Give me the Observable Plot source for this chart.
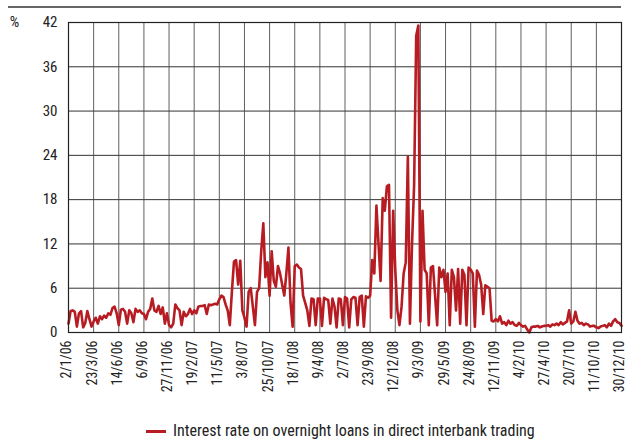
<!DOCTYPE html>
<html>
<head>
<meta charset="utf-8">
<script src="https://cdn.jsdelivr.net/npm/d3@7"></script>
<script src="https://cdn.jsdelivr.net/npm/@observablehq/plot@0.6"></script>
<style>
  html, body { margin: 0; padding: 0; background: #fff; }
  #wrap { position: relative; width: 627px; height: 439px; font-family: "Liberation Sans Narrow", "Arial Narrow", "Roboto Condensed", "Liberation Sans", sans-serif; }
  #toprule { position: absolute; left: 8px; top: 6px; width: 613px; height: 0; border-top: 2px solid #666; }
  #legend { position: absolute; left: 146px; top: 423px; height: 16px; line-height: 16px; display: flex; align-items: center; font-size: 16px; color: #222; white-space: nowrap; }
  #legend .sw { width: 20px; height: 0; border-top: 3px solid #b71c22; margin-right: 7px; }
</style>
</head>
<body>
<div id="wrap">
  <div id="toprule"></div>
  <div id="chart"></div>
  <div id="legend"><span class="sw"></span><span id="legendText"></span></div>
</div>
<script>
// Tick labels (every 58 business days)
const dateLabels = ["2/1/06","23/3/06","14/6/06","6/9/06","27/11/06","19/2/07","11/5/07","3/8/07","25/10/07","18/1/08","9/4/08","2/7/08","23/9/08","12/12/08","9/3/09","29/5/09","24/8/09","12/11/09","4/2/10","27/4/10","20/7/10","11/10/10","30/12/10"];
const pointsPerTick = 12;
const yTicks = [0, 6, 12, 18, 24, 30, 36, 42];
const seriesName = "Interest rate on overnight loans in direct interbank trading";

// Interest rate (%), sampled between consecutive tick dates
const rate2006 = [
  1.2, 2.9, 3.0, 2.8, 0.8, 2.6, 2.9, 0.7, 1.3, 2.9, 1.8, 0.8,
  1.5, 2.0, 1.2, 2.2, 1.8, 2.3, 2.0, 2.6, 2.4, 3.3, 3.5, 2.6,
  1.0, 3.1, 3.2, 2.8, 1.2, 3.0, 2.6, 1.4, 3.2, 2.8, 3.0, 2.6,
  2.5, 1.8, 2.8, 3.2, 4.6, 3.0, 2.8, 3.6, 2.5, 3.4, 1.2, 2.6
];
const rate2007 = [
  1.0, 0.7, 1.2, 3.8, 3.3, 3.0, 1.0, 2.8, 2.2, 2.5, 3.2, 2.5,
  3.0, 2.6, 3.5, 3.6, 3.6, 3.7, 2.5, 3.8, 3.7, 3.8, 3.9, 3.8,
  4.5, 5.0, 4.8, 3.8, 3.0, 1.0, 5.5, 9.6, 9.8, 6.5, 9.7, 3.0,
  2.0, 0.8, 5.5, 6.0, 3.5, 1.0, 5.5, 6.0, 11.0, 14.8, 7.5, 9.5,
  5.0, 11.0, 7.0, 6.2, 9.0, 8.0, 6.5, 5.0, 8.0, 11.5, 4.0, 0.8
];
const rate2008 = [
  9.0, 9.2, 8.8, 8.6, 5.0, 4.0, 3.0, 0.9, 4.6, 4.5, 1.0, 4.6,
  4.6, 0.9, 4.7, 4.5, 4.4, 1.2, 4.6, 3.5, 0.7, 4.6, 4.5, 1.0,
  4.8, 4.6, 0.7, 4.5, 4.8, 4.7, 1.0, 4.8, 5.0, 0.8, 4.9, 4.7,
  5.0, 9.8, 8.0, 17.2, 12.0, 7.0, 18.2, 16.5, 19.8, 20.0, 2.0, 16.5
];
const rate2009 = [
  8.5, 3.0, 1.0, 3.5, 8.0, 9.5, 23.8, 1.2, 12.0, 20.0, 40.2, 41.6,
  1.5, 16.5, 8.5, 8.0, 1.0, 8.8, 9.0, 5.0, 1.0, 8.8, 7.5, 8.5,
  5.5, 8.0, 1.0, 8.5, 7.5, 3.0, 8.6, 1.2, 8.5, 7.8, 1.0, 8.8,
  8.5, 8.0, 0.8, 8.4, 7.8, 6.5, 2.5, 6.4, 6.2, 6.0, 1.6, 1.5,
  1.8, 1.5, 2.2, 1.2, 1.4, 1.0, 1.6, 1.2, 1.4, 1.0, 0.9, 1.3
];
const rate2010 = [
  1.0, 0.8, 0.9, 0.4, 0.0, 0.7, 0.8, 0.8, 0.9, 0.7, 0.8, 0.9,
  0.9, 1.0, 0.8, 1.1, 1.0, 1.2, 1.0, 1.4, 1.1, 1.3, 1.5, 3.0,
  1.2, 1.5, 2.8, 1.6, 1.2, 1.3, 1.0, 1.2, 1.1, 0.8, 0.9, 0.9,
  0.7, 0.6, 0.8, 0.9, 1.0, 0.7, 1.2, 0.9, 1.5, 1.8, 1.4, 1.3,
  0.9
];

const rate = [...rate2006, ...rate2007, ...rate2008, ...rate2009, ...rate2010];
const data = rate.map((v, i) => ({i, v}));
const xTicks = dateLabels.map((_, k) => k * pointsPerTick);

document.getElementById("legendText").textContent = seriesName;

const chart = Plot.plot({
  width: 627,
  height: 418,
  marginTop: 22,
  marginBottom: 86,
  marginLeft: 68,
  marginRight: 6,
  style: {fontFamily: '"Liberation Sans Narrow", "Arial Narrow", "Roboto Condensed", "Liberation Sans", sans-serif', fontSize: "15px", color: "#222", background: "#fff"},
  x: {domain: [0, (dateLabels.length - 1) * pointsPerTick]},
  y: {domain: [0, 42]},
  marks: [
    Plot.gridY(yTicks, {stroke: "#333", strokeOpacity: 1, strokeWidth: 1}),
    Plot.gridX(xTicks, {stroke: "#444", strokeOpacity: 0.85, strokeWidth: 1}),
    Plot.lineY(data, {x: "i", y: "v", stroke: "#b71c22", strokeWidth: 2.6, strokeLinejoin: "round"}),
    Plot.frame({stroke: "#222", strokeWidth: 1.2}),
    Plot.axisY(yTicks, {tickSize: 0, tickPadding: 11, label: null, fontSize: 15}),
    Plot.axisX(xTicks, {tickSize: 0, tickPadding: 8, tickRotate: -90, label: null, tickFormat: d => dateLabels[d / pointsPerTick], fontSize: 14, dx: -1.5}),
    Plot.text(["%"], {frameAnchor: "top-left", dx: -54, dy: 0, textAnchor: "middle", lineAnchor: "middle", fontSize: 15, fill: "#222"})
  ]
});
document.getElementById("chart").appendChild(chart);
</script>
</body>
</html>
